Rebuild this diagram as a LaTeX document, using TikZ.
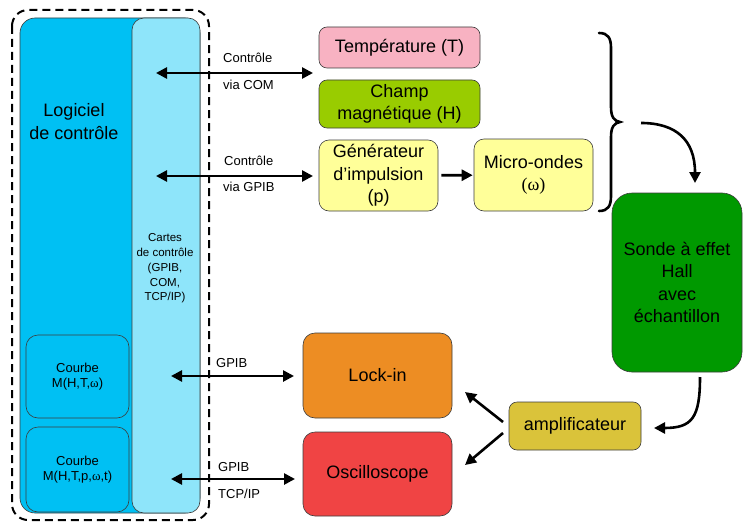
\documentclass[tikz,border=0pt]{standalone}
\usepackage{fontspec}
\setmainfont{Liberation Sans}
\newfontfamily\symf{Liberation Serif}
\usetikzlibrary{arrows.meta}
\definecolor{logcol}{RGB}{0,192,243}
\definecolor{cartescol}{RGB}{142,229,250}
\definecolor{tempcol}{RGB}{248,178,194}
\definecolor{champcol}{RGB}{153,204,0}
\definecolor{yelcol}{RGB}{255,255,153}
\definecolor{sondecol}{RGB}{0,153,0}
\definecolor{amplcol}{RGB}{218,195,58}
\definecolor{lockcol}{RGB}{237,141,35}
\definecolor{osccol}{RGB}{240,68,68}
\definecolor{bordcol}{RGB}{60,60,60}
\newcommand{\bigf}{\fontsize{18}{22.5}\selectfont}
\newcommand{\smallf}{\fontsize{13}{15}\selectfont}
\newcommand{\cartf}{\fontsize{11.5}{14.75}\selectfont}
\tikzset{
  box/.style={draw=bordcol, line width=0.6pt, rounded corners=8pt, inner sep=0pt, align=center, font=\bigf},
  thickarrow/.style={line width=2.6pt, {Triangle[length=11pt,width=11pt]}-{Triangle[length=11pt,width=11pt]}},
  onearrow/.style={line width=2.6pt, -{Triangle[length=11pt,width=11pt]}},
  lbl/.style={font=\smallf, anchor=west, inner sep=0pt}
}
\begin{document}
\begin{tikzpicture}[x=1pt,y=-1pt]
\useasboundingbox (0,0) rectangle (743,524);
% left software block
\node[box, fill=logcol, rounded corners=15pt, minimum width=180, minimum height=495] (logiciel) at (110,265.5) {};
\node[box, fill=cartescol, rounded corners=12pt, minimum width=68, minimum height=495, font=\cartf] (cartes) at (166,265.5) {};
\node[font=\cartf, align=center, inner sep=0pt] (cartext) at (165,268.5) {Cartes\\de contrôle\\(GPIB,\\COM,\\TCP/IP)};
\node[font=\bigf, align=center, inner sep=0pt] (logtext) at (74,121.5) {Logiciel\\de contrôle};
\node[box, fill=logcol, rounded corners=12pt, minimum width=103, minimum height=83, font=\smallf] (courbe1) at (77.5,376.5) {Courbe\\M(H,T,{\symf ω})};
\node[box, fill=logcol, rounded corners=12pt, minimum width=103, minimum height=85, font=\smallf] (courbe2) at (77.5,469.5) {Courbe\\M(H,T,p,{\symf ω},t)};
\draw[line width=2pt, dash pattern=on 8pt off 5pt, rounded corners=16pt] (12,10) rectangle (209,520);
% instruments
\node[box, fill=tempcol, minimum width=161, minimum height=41] (temp) at (399.5,47.5) {Température (T)};
\node[box, fill=champcol, minimum width=161, minimum height=48] (champ) at (399.5,104) {Champ\\magnétique (H)};
\node[box, fill=yelcol, rounded corners=10pt, minimum width=119, minimum height=71] (gen) at (378.5,175.5) {Générateur\\d’impulsion\\(p)};
\node[box, fill=yelcol, rounded corners=10pt, minimum width=119, minimum height=72] (micro) at (533.5,175) {Micro-ondes\\{\symf (ω)}};
\node[box, fill=sondecol, rounded corners=20pt, minimum width=130, minimum height=179] (sonde) at (677,282.5) {Sonde à effet\\Hall\\avec\\échantillon};
\node[box, fill=amplcol, minimum width=132, minimum height=48] (ampl) at (575,426) {amplificateur};
\node[box, fill=lockcol, rounded corners=12pt, minimum width=149, minimum height=85] (lock) at (377.5,375.5) {Lock-in};
\node[box, fill=osccol, rounded corners=12pt, minimum width=149, minimum height=84] (osc) at (377.5,474) {Oscilloscope};
% connector end points
\coordinate (a1l) at (156,73);  \coordinate (a1r) at (313,73);
\coordinate (a2l) at (156,176); \coordinate (a2r) at (313,176);
\coordinate (a3l) at (171,376); \coordinate (a3r) at (294,376);
\coordinate (a4l) at (171,479); \coordinate (a4r) at (295,479);
\draw[thickarrow] (a1l) -- (a1r);
\draw[thickarrow] (a2l) -- (a2r);
\draw[thickarrow] (a3l) -- (a3r);
\draw[thickarrow] (a4l) -- (a4r);
\node[lbl] (l1a) at (223,58) {Contrôle};
\node[lbl] (l1b) at (223,85) {via COM};
\node[lbl] (l2a) at (224,161) {Contrôle};
\node[lbl] (l2b) at (223,187) {via GPIB};
\node[lbl] (l3a) at (216,363) {GPIB};
\node[lbl] (l4a) at (218,467) {GPIB};
\node[lbl] (l4b) at (218,494) {TCP/IP};
\draw[onearrow, shorten <=3pt, shorten >=1pt] (gen) -- (micro);
% brace
\draw[line width=2.6pt, line cap=round] (599,33) .. controls (608,33) and (611,38) .. (611,48) -- (611,107) .. controls (611,117) and (614,121) .. (620,122) .. controls (614,123) and (611,127) .. (611,137) -- (611,196) .. controls (611,206) and (608,211) .. (599,211);
\coordinate (bt) at (641,123);
\coordinate (st) at (695,183);
\draw[onearrow] (bt) .. controls (676,123) and (695,140) .. (st);
\coordinate (sb) at (700,377);
\coordinate (ar) at (654,428);
\draw[onearrow] (sb) .. controls (700,418) and (692,428) .. (ar);
\coordinate (amp1) at (503,422);
\coordinate (amp2) at (503,433);
\coordinate (lockt) at (465,392);
\coordinate (osct) at (465,465);
\draw[onearrow] (amp1) -- (lockt);
\draw[onearrow] (amp2) -- (osct);
\end{tikzpicture}
\end{document}
